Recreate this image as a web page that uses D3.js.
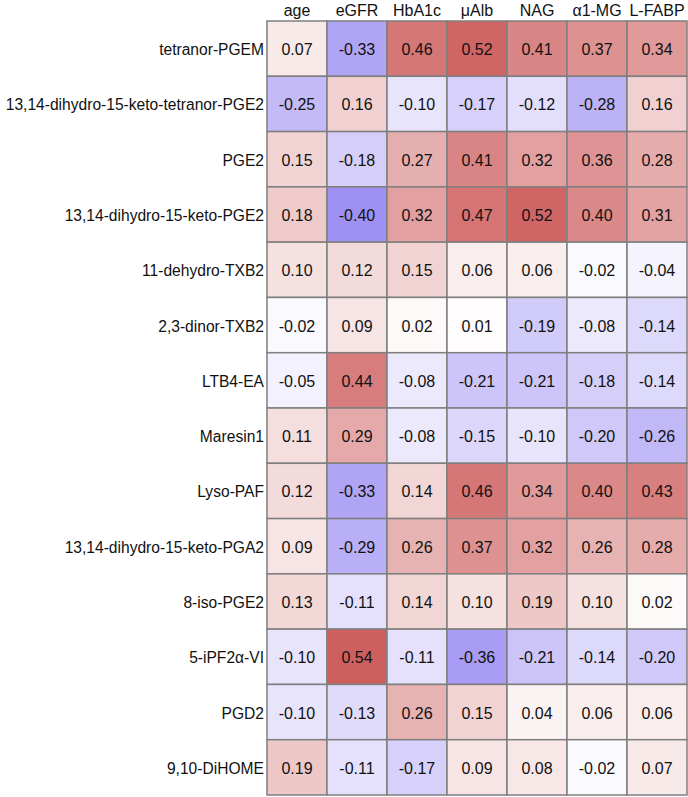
<!DOCTYPE html>
<html><head><meta charset="utf-8">
<script src="https://cdn.jsdelivr.net/npm/d3@7"></script>
<style>body{margin:0;background:#fff}svg text{font-family:"Liberation Sans",Arial,sans-serif}</style>
</head><body><svg id="c" width="688" height="797"></svg>
<script>
const columns = ["age","eGFR","HbA1c","μAlb","NAG","α1-MG","L-FABP"];
const rows = ["tetranor-PGEM","13,14-dihydro-15-keto-tetranor-PGE2","PGE2","13,14-dihydro-15-keto-PGE2","11-dehydro-TXB2","2,3-dinor-TXB2","LTB4-EA","Maresin1","Lyso-PAF","13,14-dihydro-15-keto-PGA2","8-iso-PGE2","5-iPF2α-VI","PGD2","9,10-DiHOME"];
const values = [
 [0.07,-0.33,0.46,0.52,0.41,0.37,0.34],
 [-0.25,0.16,-0.10,-0.17,-0.12,-0.28,0.16],
 [0.15,-0.18,0.27,0.41,0.32,0.36,0.28],
 [0.18,-0.40,0.32,0.47,0.52,0.40,0.31],
 [0.10,0.12,0.15,0.06,0.06,-0.02,-0.04],
 [-0.02,0.09,0.02,0.01,-0.19,-0.08,-0.14],
 [-0.05,0.44,-0.08,-0.21,-0.21,-0.18,-0.14],
 [0.11,0.29,-0.08,-0.15,-0.10,-0.20,-0.26],
 [0.12,-0.33,0.14,0.46,0.34,0.40,0.43],
 [0.09,-0.29,0.26,0.37,0.32,0.26,0.28],
 [0.13,-0.11,0.14,0.10,0.19,0.10,0.02],
 [-0.10,0.54,-0.11,-0.36,-0.21,-0.14,-0.20],
 [-0.10,-0.13,0.26,0.15,0.04,0.06,0.06],
 [0.19,-0.11,-0.17,0.09,0.08,-0.02,0.07]
];
const svg = d3.select("#c");
const x = d3.scaleBand().domain(columns).range([267,687]);
const y = d3.scaleBand().domain(rows).range([21,795]);
const color = d3.scaleLinear().domain([-0.55,0,0.55]).range(["#7b68ee","#ffffff","#cd5c5c"]);
const cells = [];
values.forEach((r,i)=>r.forEach((v,j)=>cells.push({row:rows[i],col:columns[j],v})));
svg.selectAll("rect.cell").data(cells).join("rect").attr("class","cell")
 .attr("x",d=>x(d.col)).attr("y",d=>y(d.row))
 .attr("width",x.bandwidth()).attr("height",y.bandwidth())
 .attr("fill",d=>color(d.v)).attr("stroke","#7f7f7f").attr("stroke-width",1.5);
svg.selectAll("text.val").data(cells).join("text").attr("class","val")
 .attr("x",d=>x(d.col)+x.bandwidth()/2).attr("y",d=>y(d.row)+y.bandwidth()/2+1)
 .attr("text-anchor","middle").attr("dominant-baseline","central")
 .attr("font-size",16).attr("fill","#111").text(d=>d.v.toFixed(2));
svg.selectAll("text.rowlab").data(rows).join("text").attr("class","rowlab")
 .attr("x",264).attr("y",d=>y(d)+y.bandwidth()/2+1)
 .attr("text-anchor","end").attr("dominant-baseline","central")
 .attr("font-size",15.6).attr("fill","#111").text(d=>d);
svg.selectAll("text.collab").data(columns).join("text").attr("class","collab")
 .attr("x",d=>x(d)+x.bandwidth()/2).attr("y",16)
 .attr("text-anchor","middle")
 .attr("font-size",16).attr("fill","#111").text(d=>d);
</script></body></html>
